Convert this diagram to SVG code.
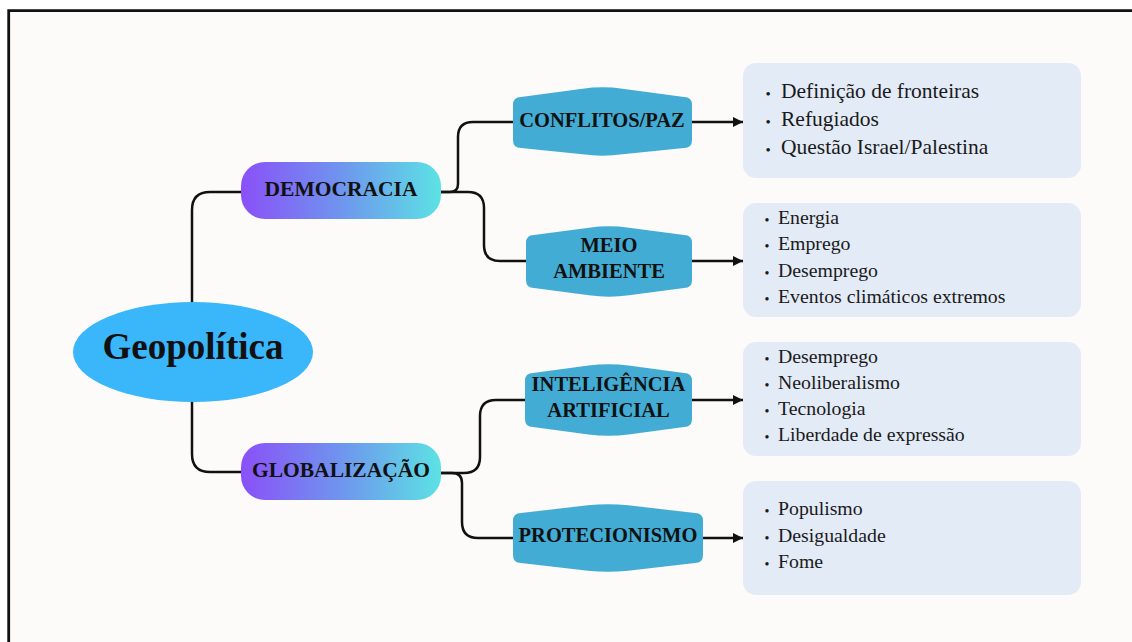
<svg xmlns="http://www.w3.org/2000/svg" width="1132" height="642" viewBox="0 0 1132 642">
<defs>
<linearGradient id="pillGrad" x1="0" y1="0" x2="1" y2="0">
<stop offset="0" stop-color="#8a50f8"/>
<stop offset="0.5" stop-color="#6f95ee"/>
<stop offset="1" stop-color="#5ce2e4"/>
</linearGradient>
<marker id="arrow" markerUnits="userSpaceOnUse" markerWidth="10" markerHeight="10" refX="10" refY="5" orient="auto">
<path d="M0,0 L10,5 L0,10 Z" fill="#111"/>
</marker>
<style>
.conn{fill:none;stroke:#111;stroke-width:2.5;stroke-linecap:round;stroke-linejoin:round}
.arr{fill:none;stroke:#111;stroke-width:2.5;marker-end:url(#arrow)}
.hex{fill:#42acd4}
.pill{fill:url(#pillGrad)}
.box{fill:#e3ebf7}
.lbl{font-family:"Liberation Serif","Times New Roman",serif;font-weight:bold;font-size:20.5px;fill:#111;text-anchor:middle}
.plbl{font-family:"Liberation Serif","Times New Roman",serif;font-weight:bold;font-size:21.5px;fill:#111;text-anchor:middle}
.item{font-family:"Liberation Serif","Times New Roman",serif;font-size:19.8px;fill:#1a1a1a}
.item1{font-family:"Liberation Serif","Times New Roman",serif;font-size:21.5px;fill:#1a1a1a}
.bul{font-size:14px}
.bul1{font-size:15px}
</style>
</defs>
<rect x="0" y="0" width="1132" height="642" fill="#ffffff"/>
<rect x="8.7" y="10.7" width="1130" height="640" fill="#fcfbf9"/>
<path d="M8.7,642 L8.7,10.7 L1132,10.7" fill="none" stroke="#111" stroke-width="2.8"/>

<g id="connectors">
<path class="conn" d="M192,303 L192,210 Q192,192 210,192 L241,192"/>
<path class="conn" d="M192,402 L192,454 Q192,472 210,472 L241,472"/>
<path class="conn" d="M441,192 L450,192 Q458,192 458,184 L458,137 Q458,122 473,122 L513,122"/>
<path class="conn" d="M441,192 L468,192 Q484,192 484,208 L484,245 Q484,261 500,261 L526,261"/>
<path class="conn" d="M441,473 L464,473 Q480,473 480,457 L480,416 Q480,400 496,400 L525,400"/>
<path class="conn" d="M441,473 L452,473 Q462,473 462,483 L462,522 Q462,538 478,538 L513,538"/>
<path class="arr" d="M692,122 L743,122"/>
<path class="arr" d="M692,261 L743,261"/>
<path class="arr" d="M692,400 L743,400"/>
<path class="arr" d="M703,538 L743,538"/>
</g>

<g id="geopolitica">
<ellipse cx="193" cy="352" rx="120" ry="50" fill="#3ab6fb"/>
<text x="193" y="359" font-family="'Liberation Serif','Times New Roman',serif" font-weight="bold" font-size="37" fill="#111" text-anchor="middle">Geopolítica</text>
</g>

<g id="democracia">
<rect class="pill" x="241" y="162" width="200" height="57" rx="24"/>
<text class="plbl" x="341" y="196">DEMOCRACIA</text>
</g>

<g id="globalizacao">
<rect class="pill" x="241" y="443" width="200" height="57" rx="24"/>
<text class="plbl" x="341" y="477">GLOBALIZAÇÃO</text>
</g>

<g id="conflitos">
<path class="hex" d="M513,105 Q513,97 521,97 L582.5,88.7 Q602.5,86 622.5,88.7 L684,97 Q692,97 692,105 L692,140 Q692,148 684,148 L622.5,154.3 Q602.5,157 582.5,154.3 L521,148 Q513,148 513,140 Z"/>
<text class="lbl" x="602" y="127" font-size="21">CONFLITOS/PAZ</text>
</g>

<g id="meio-ambiente">
<path class="hex" d="M526,243 Q526,235 534,235 L589,227.7 Q609,225 629,227.7 L684,235 Q692,235 692,243 L692,280 Q692,288 684,288 L629,295.3 Q609,298 589,295.3 L534,288 Q526,288 526,280 Z"/>
<text class="lbl" x="609" y="252">MEIO</text>
<text class="lbl" x="609" y="278">AMBIENTE</text>
</g>

<g id="inteligencia-artificial">
<path class="hex" d="M525,381 Q525,373 533,373 L588.5,365.6 Q608.5,363 628.5,365.6 L684,373 Q692,373 692,381 L692,419 Q692,427 684,427 L628.5,434.4 Q608.5,437 588.5,434.4 L533,427 Q525,427 525,419 Z"/>
<text class="lbl" x="608.5" y="391">INTELIGÊNCIA</text>
<text class="lbl" x="608.5" y="417">ARTIFICIAL</text>
</g>

<g id="protecionismo">
<path class="hex" d="M513,521 Q513,513 521,513 L588,505.3 Q608,503 628,505.3 L695,513 Q703,513 703,521 L703,555 Q703,563 695,563 L628,570.7 Q608,573 588,570.7 L521,563 Q513,563 513,555 Z"/>
<text class="lbl" x="608" y="542">PROTECIONISMO</text>
</g>

<g id="box-conflitos">
<rect class="box" x="743" y="63" width="338" height="115" rx="13"/>
<text class="item1"><tspan class="bul1" x="765.4" y="99">•</tspan><tspan x="781" y="98">Definição de fronteiras</tspan></text>
<text class="item1"><tspan class="bul1" x="765.4" y="127">•</tspan><tspan x="781" y="126">Refugiados</tspan></text>
<text class="item1"><tspan class="bul1" x="765.4" y="155">•</tspan><tspan x="781" y="154">Questão Israel/Palestina</tspan></text>
</g>

<g id="box-meio-ambiente">
<rect class="box" x="743" y="203" width="338" height="114" rx="13"/>
<text class="item"><tspan class="bul" x="764.5" y="225">•</tspan><tspan x="778" y="224">Energia</tspan></text>
<text class="item"><tspan class="bul" x="764.5" y="251">•</tspan><tspan x="778" y="250">Emprego</tspan></text>
<text class="item"><tspan class="bul" x="764.5" y="278">•</tspan><tspan x="778" y="277">Desemprego</tspan></text>
<text class="item"><tspan class="bul" x="764.5" y="304">•</tspan><tspan x="778" y="303">Eventos climáticos extremos</tspan></text>
</g>

<g id="box-inteligencia">
<rect class="box" x="743" y="342" width="338" height="114" rx="13"/>
<text class="item"><tspan class="bul" x="764.5" y="364">•</tspan><tspan x="778" y="363">Desemprego</tspan></text>
<text class="item"><tspan class="bul" x="764.5" y="390">•</tspan><tspan x="778" y="389">Neoliberalismo</tspan></text>
<text class="item"><tspan class="bul" x="764.5" y="416">•</tspan><tspan x="778" y="415">Tecnologia</tspan></text>
<text class="item"><tspan class="bul" x="764.5" y="442">•</tspan><tspan x="778" y="441">Liberdade de expressão</tspan></text>
</g>

<g id="box-protecionismo">
<rect class="box" x="743" y="481" width="338" height="114" rx="13"/>
<text class="item"><tspan class="bul" x="764.5" y="516">•</tspan><tspan x="778" y="515">Populismo</tspan></text>
<text class="item"><tspan class="bul" x="764.5" y="543">•</tspan><tspan x="778" y="542">Desigualdade</tspan></text>
<text class="item"><tspan class="bul" x="764.5" y="569">•</tspan><tspan x="778" y="568">Fome</tspan></text>
</g>
</svg>
